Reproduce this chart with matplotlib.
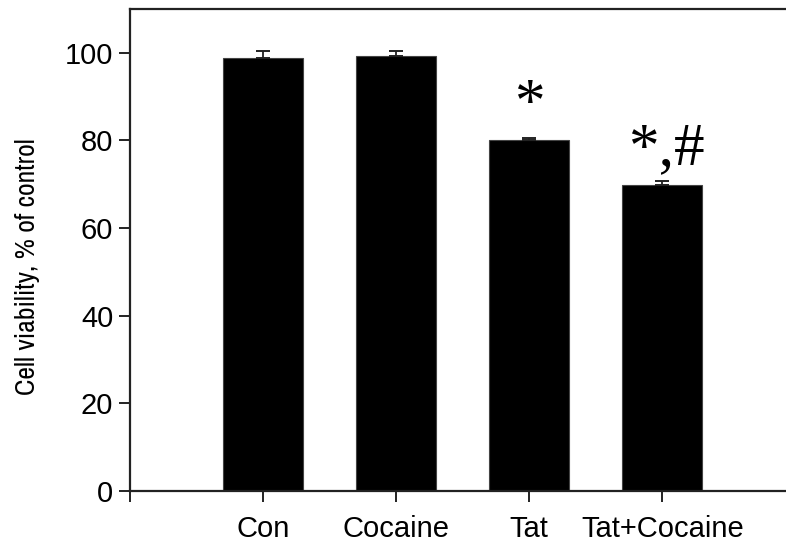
import numpy as np
import matplotlib.pyplot as plt

groups = ['Con', 'Cocaine', 'Tat', 'Tat+Cocaine']
viability = [98.9, 99.3, 80.0, 69.9]
sem = [1.5, 1.2, 0.6, 0.8]
marks = ['', '', '*', '*,#']

plt.rcParams['font.family'] = ['Liberation Sans', 'DejaVu Sans']

fig = plt.figure(figsize=(7.86, 5.46), dpi=100)
ax = fig.add_axes([0.1654, 0.1007, 0.8346, 0.8828])

x = np.arange(1, len(groups) + 1)
ax.bar(x, viability, width=0.6, color='black', edgecolor='#444444', linewidth=0.8)
ax.errorbar(x, viability, yerr=[np.zeros(len(sem)), sem], fmt='none',
            ecolor='#222222', elinewidth=1.3, capsize=5, capthick=1.4)

# significance marks above the error bars
for xi, v, s, m in zip(x, viability, sem, marks):
    if m:
        ax.annotate(m, (xi, v + s + 1.0), xytext=(3 * (len(m) > 1), 0),
                    textcoords='offset points', ha='center', va='bottom',
                    family='Liberation Serif', fontsize=44)

ax.set_xlim(0, 4.93)
ax.set_ylim(0, 110)
ax.set_xticks([0, 1, 2, 3, 4])
ax.set_xticklabels([''] + groups)
ax.set_yticks(np.arange(0, 101, 20))
ax.set_ylabel('Cell viability, % of control', fontsize=20,
              family=['Archivo Narrow', 'Liberation Sans'])
ax.yaxis.set_label_coords(-0.137, 0.465)

for side in ['left', 'bottom', 'top']:
    ax.spines[side].set_linewidth(1.6)
    ax.spines[side].set_color('#222222')
ax.spines['right'].set_visible(False)
ax.tick_params(direction='out', length=8, width=1.4, color='#222222',
               labelsize=21, pad=4)
ax.tick_params(axis='x', pad=9)

fig.savefig('out.png', dpi=100)
